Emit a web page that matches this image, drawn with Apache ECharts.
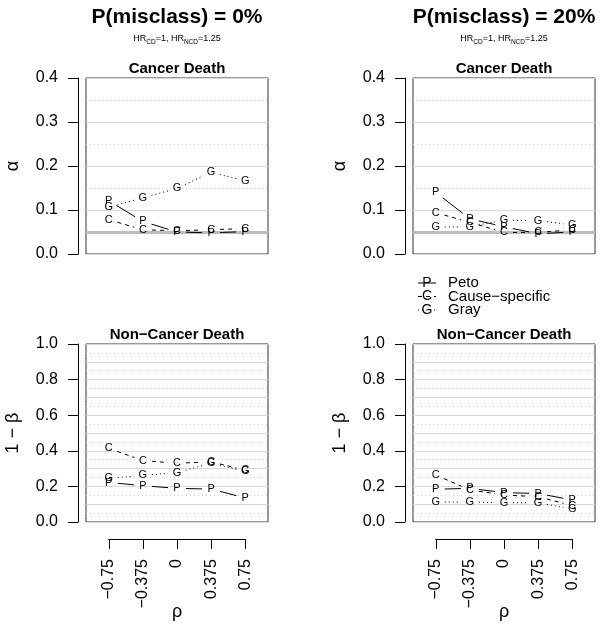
<!DOCTYPE html>
<html><head><meta charset="utf-8">
<script src="https://cdn.jsdelivr.net/npm/echarts@6/dist/echarts.min.js"></script>
<style>html,body{margin:0;padding:0;background:#fff}#c{width:600px;height:624px}</style>
</head><body><div id="c"></div>
<script>
// ---- data ----
const rho = [-0.75, -0.375, 0, 0.375, 0.75];
const rhoTicks = ['\u22120.75', '\u22120.375', '0', '0.375', '0.75'];
const columnTitles = ['P(misclass) = 0%', 'P(misclass) = 20%'];
const rowTitles = ['Cancer Death', 'Non\u2212Cancer Death'];
const rowAxisNames = ['\u03b1', '1 \u2212 \u03b2'];
const methods = ['Peto', 'Cause\u2212specific', 'Gray'];
const letters = ['P', 'C', 'G'];
const alphaLevel = 0.05;
// alpha (Cancer Death), misclass 0%
const peto0A = [0.121, 0.074, 0.050, 0.048, 0.051];
const cs0A   = [0.078, 0.055, 0.053, 0.055, 0.058];
const gray0A = [0.106, 0.128, 0.149, 0.186, 0.166];
// alpha, misclass 20%
const peto20A = [0.140, 0.080, 0.062, 0.046, 0.050];
const cs20A   = [0.094, 0.072, 0.049, 0.049, 0.055];
const gray20A = [0.061, 0.062, 0.077, 0.076, 0.066];
// power (Non-Cancer Death), misclass 0%
const peto0P = [0.222, 0.204, 0.189, 0.185, 0.135];
const cs0P   = [0.414, 0.345, 0.330, 0.338, 0.291];
const gray0P = [0.245, 0.262, 0.277, 0.331, 0.284];
// power, misclass 20%
const peto20P = [0.184, 0.189, 0.165, 0.160, 0.124];
const cs20P   = [0.264, 0.180, 0.152, 0.142, 0.092];
const gray20P = [0.112, 0.112, 0.108, 0.108, 0.073];

// ---- layout / style ----
const FONT = '"Liberation Sans", Arial, Helvetica, sans-serif';
const dashes = [null, [4, 4], [1, 3]];
const GAP = 9;
const boxW = 182;
const boxLeft = [86, 413];
const boxTop = [78, 344];
const boxH = [176, 178];
const panelData = [
  [[peto0A, cs0A, gray0A], [peto20A, cs20A, gray20A]],
  [[peto0P, cs0P, gray0P], [peto20P, cs20P, gray20P]]
];
const yMax = [0.4, 1.0];
const yInterval = [0.1, 0.2];

function makeRender(letter, dash) {
  return function (params, api) {
    const p = api.coord([api.value(0), api.value(1)]);
    const children = [];
    const xn = api.value(2), yn = api.value(3);
    if (xn != null && yn != null && !isNaN(xn) && !isNaN(yn)) {
      const q = api.coord([xn, yn]);
      const dx = q[0] - p[0], dy = q[1] - p[1], L = Math.hypot(dx, dy);
      if (L > 2 * GAP) {
        const ux = dx / L, uy = dy / L;
        children.push({
          type: 'line',
          shape: { x1: p[0] + ux * GAP, y1: p[1] + uy * GAP, x2: q[0] - ux * GAP, y2: q[1] - uy * GAP },
          style: { stroke: '#000', lineWidth: 1, lineDash: dash }
        });
      }
    }
    children.push({
      type: 'text', x: p[0], y: p[1],
      style: { text: letter, align: 'center', verticalAlign: 'middle', font: '11px ' + FONT, fill: '#000' }
    });
    return { type: 'group', children: children };
  };
}

const grid = [], xAxis = [], yAxis = [], series = [], graphic = [];
for (let r = 0; r < 2; r++) {
  for (let c = 0; c < 2; c++) {
    const gi = grid.length;
    grid.push({ left: boxLeft[c], top: boxTop[r], width: boxW, height: boxH[r],
      show: true, borderColor: '#333', borderWidth: 1, backgroundColor: 'transparent' });
    xAxis.push({ gridIndex: gi, type: 'value', min: -1, max: 1, show: false });
    const mainY = yAxis.length;
    yAxis.push({
      gridIndex: gi, type: 'value', min: 0, max: yMax[r], interval: yInterval[r], offset: 8,
      axisLine: { show: true, onZero: false, lineStyle: { color: '#000', width: 1 } },
      axisTick: { show: true, length: 10, lineStyle: { color: '#000' } },
      axisLabel: { color: '#000', fontSize: 16, fontFamily: FONT, margin: 20,
        formatter: function (v) { return v.toFixed(1); } },
      splitLine: { show: false },
      name: rowAxisNames[r], nameLocation: 'middle', nameGap: 56, nameRotate: 90,
      nameMoveOverlap: false,
      nameTextStyle: { color: '#000', fontSize: 18, fontFamily: FONT }
    });
    yAxis.push({
      gridIndex: gi, type: 'value', min: 0, max: yMax[r], interval: 0.1,
      axisLine: { show: false, onZero: false }, axisTick: { show: false }, axisLabel: { show: false },
      splitLine: { show: true, lineStyle: { color: '#d9d9d9', width: 1 } },
      minorTick: { show: false, splitNumber: 2 },
      minorSplitLine: { show: true, lineStyle: { color: '#d2d2d2', width: 1, type: [1, 3] } }
    });
    if (r === 0) {
      series.push({
        type: 'line', xAxisIndex: gi, yAxisIndex: mainY, data: [], z: 1,
        markLine: { silent: true, symbol: 'none', label: { show: false },
          lineStyle: { color: '#bdbdbd', width: 3, type: 'solid' },
          data: [{ yAxis: alphaLevel }] }
      });
    }
    for (let m = 0; m < 3; m++) {
      const vals = panelData[r][c][m];
      const data = rho.map(function (x, i) {
        const last = i === rho.length - 1;
        return [x, vals[i], last ? null : rho[i + 1], last ? null : vals[i + 1]];
      });
      series.push({
        type: 'custom', name: methods[m], xAxisIndex: gi, yAxisIndex: mainY, z: 5,
        dimensions: ['x', 'y', 'xn', 'yn'], encode: { x: 0, y: 1 },
        renderItem: makeRender(letters[m], dashes[m]), data: data, clip: false
      });
    }
    if (r === 0) {
      graphic.push({ type: 'text', x: boxLeft[c] + boxW / 2, y: 17,
        style: { text: columnTitles[c], align: 'center', verticalAlign: 'middle',
          font: 'bold 21px ' + FONT, fill: '#000' } });
      graphic.push({ type: 'text', x: boxLeft[c] + boxW / 2, y: 40,
        style: { text: '{n|HR}{s|CD}{n|=1, HR}{s|NCD}{n|=1.25}', align: 'center', verticalAlign: 'middle',
          rich: { n: { fontSize: 9, fontFamily: FONT, color: '#000', lineHeight: 11, verticalAlign: 'top' },
                  s: { fontSize: 6.5, fontFamily: FONT, color: '#000', lineHeight: 7, verticalAlign: 'bottom' } } } });
    }
    graphic.push({ type: 'text', x: boxLeft[c] + boxW / 2, y: boxTop[r] - 9,
      style: { text: rowTitles[r], align: 'center', verticalAlign: 'middle',
        font: 'bold 15px ' + FONT, fill: '#000' } });
  }
}
// x axes on the bottom panels, spanning only the rho range
for (let c = 0; c < 2; c++) {
  const gi = grid.length;
  const span = rho[rho.length - 1] - rho[0];
  grid.push({ left: boxLeft[c] + boxW * (rho[0] + 1) / 2, top: boxTop[1], width: boxW * span / 2, height: boxH[1], show: false });
  xAxis.push({
    gridIndex: gi, type: 'value', min: rho[0], max: rho[rho.length - 1], interval: 0.375, offset: 17,
    axisLine: { show: true, onZero: false, lineStyle: { color: '#000', width: 1 } },
    axisTick: { show: true, length: 10, lineStyle: { color: '#000' } },
    axisLabel: { rotate: 90, margin: 20, color: '#000', fontSize: 16, fontFamily: FONT,
      formatter: function (v) { const i = rho.indexOf(v); return i >= 0 ? rhoTicks[i] : ''; } },
    splitLine: { show: false },
    name: '\u03c1', nameLocation: 'middle', nameGap: 64, nameMoveOverlap: false,
    nameTextStyle: { color: '#000', fontSize: 18, fontFamily: FONT }
  });
  yAxis.push({ gridIndex: gi, type: 'value', min: 0, max: 1, show: false });
  series.push({ type: 'line', xAxisIndex: gi, yAxisIndex: yAxis.length - 1, data: [] });
}
// legend
const legX = 418, legY0 = 283, legDy = 13.5;
for (let m = 0; m < 3; m++) {
  const y = legY0 + m * legDy;
  graphic.push({ type: 'line', shape: { x1: legX, y1: y, x2: legX + 18, y2: y },
    style: { stroke: '#000', lineWidth: 1, lineDash: dashes[m] } });
  graphic.push({ type: 'text', x: legX + 9, y: y,
    style: { text: letters[m], align: 'center', verticalAlign: 'middle', font: '14px ' + FONT, fill: '#000' } });
  graphic.push({ type: 'text', x: legX + 30, y: y,
    style: { text: methods[m], align: 'left', verticalAlign: 'middle', font: '15px ' + FONT, fill: '#000' } });
}

const chart = echarts.init(document.getElementById('c'), null, { renderer: 'canvas' });
chart.setOption({ animation: false, backgroundColor: '#fff', grid: grid, xAxis: xAxis, yAxis: yAxis, series: series, graphic: graphic });
</script></body></html>
